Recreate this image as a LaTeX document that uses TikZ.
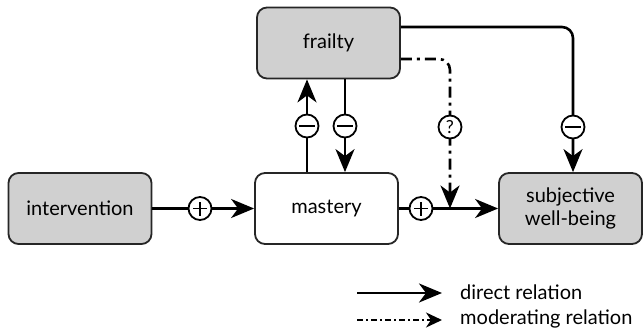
\documentclass[tikz,border=0pt]{standalone}
\usepackage{fontspec}
\setmainfont{Lato}
\usetikzlibrary{arrows.meta}
\definecolor{boxgray}{HTML}{D0D0D0}
\tikzset{
  box/.style={draw=black!85, line width=1.8pt, rounded corners=10pt, minimum width=143pt, minimum height=71pt, inner sep=0pt, align=center, font=\fontsize{20}{23}\selectfont},
  grey/.style={box, fill=boxgray},
  tip/.style={-{Stealth[length=23pt,width=19pt,inset=7pt]}},
  arr/.style={line width=2.6pt, tip},
  moder/.style={line width=2.6pt, dash pattern=on 11pt off 5pt on 3pt off 5pt, rounded corners=11pt},
  sgn/.style={circle, draw=black, fill=white, line width=1.8pt, minimum size=23pt, inner sep=0pt},
  plussgn/.style={sgn, path picture={\draw[line width=1.8pt] ([xshift=-7pt]path picture bounding box.center) -- ([xshift=7pt]path picture bounding box.center) ([yshift=-7pt]path picture bounding box.center) -- ([yshift=7pt]path picture bounding box.center);}},
  minussgn/.style={sgn, path picture={\draw[line width=1.8pt] ([xshift=-8pt]path picture bounding box.center) -- ([xshift=8pt]path picture bounding box.center);}},
  lbl/.style={anchor=west, inner sep=0pt, font=\fontsize{20}{23}\selectfont}
}
\begin{document}
\begin{tikzpicture}[x=1pt,y=-1pt]
\useasboundingbox (0,0) rectangle (644,332);
% boxes
\node[grey] (fra) at (328.5,43) {frailty};
\node[grey] (int) at (80,208.5) {intervention};
\node[box, fill=white] (mas) at (326.5,208.5) {mastery};
\node[grey] (swb) at (570.5,208.5) {subjective\\well-being};
% coordinates
\coordinate (upx) at (307,0);
\coordinate (dnx) at (345,0);
\coordinate (modx) at (450,0);
\coordinate (topy) at (0,27);
\coordinate (mody) at (0,59);
\coordinate (swbx) at (573,0);
% intervention -> mastery
\draw[arr] (int) -- (mas);
\node[plussgn] (p1) at (200,208.5) {};
% mastery -> swb
\draw[arr] (mas) -- (swb);
\node[plussgn] (p2) at (421,208.5) {};
% mastery -> frailty
\draw[arr] (mas.north -| upx) -- (fra.south -| upx);
\node[minussgn] (m1) at (307,126) {};
% frailty -> mastery
\draw[arr] (fra.south -| dnx) -- (mas.north -| dnx);
\node[minussgn] (m2) at (345,126) {};
% frailty -> swb
\draw[arr, rounded corners=11pt] (fra.east |- topy) -- (swbx |- topy) -- (swb.north -| swbx);
\node[minussgn] (m3) at (573,127) {};
% moderating
\draw[moder, tip] (fra.east |- mody) -- (modx |- mody) -- (modx |- mas.east);
\node[sgn, font=\fontsize{18}{18}\selectfont] (q) at (450,127) {?};
% legend
\coordinate (l1a) at (357,293);
\coordinate (l1b) at (442,293);
\coordinate (l2a) at (357,320);
\coordinate (l2b) at (442,320);
\draw[arr] (l1a) -- (l1b);
\draw[line width=2pt, dash pattern=on 6pt off 3pt on 2pt off 3pt, -{Stealth[length=16pt,width=15pt,inset=5pt]}] (l2a) -- (l2b);
\node[lbl] (t1) at (460,292) {direct relation};
\node[lbl] (t2) at (460,319) {moderating relation};
\end{tikzpicture}
\end{document}
